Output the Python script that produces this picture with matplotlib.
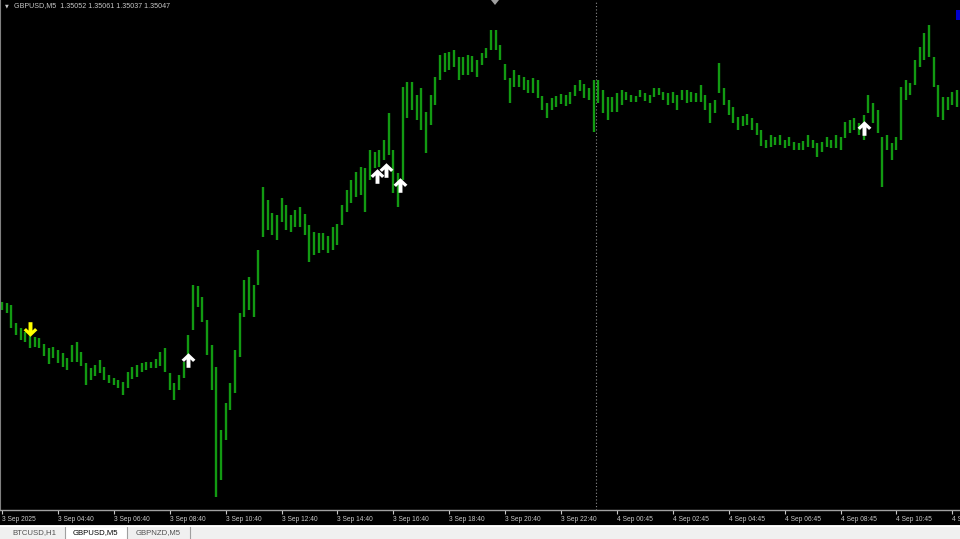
import numpy as np
import matplotlib
matplotlib.use('Agg')
import matplotlib.pyplot as plt
from matplotlib.path import Path
from matplotlib.patches import Rectangle, Polygon

# GBPUSD M5, high/low for every second bar (10 min steps)
high_prices = [
    1.34848, 1.34847, 1.34845, 1.34827, 1.34822, 1.34818, 1.34815, 1.34813, 1.34812, 1.34806,
    1.34802, 1.34803, 1.34800, 1.34797, 1.34792, 1.34805, 1.34808, 1.34798, 1.34787, 1.34782,
    1.34785, 1.34790, 1.34783, 1.34775, 1.34772, 1.34770, 1.34768, 1.34778, 1.34783, 1.34785,
    1.34787, 1.34788, 1.34788, 1.34791, 1.34798, 1.34802, 1.34777, 1.34767, 1.34775, 1.34788,
    1.34815, 1.34865, 1.34864, 1.34853, 1.34830, 1.34805, 1.34783, 1.34720, 1.34747, 1.34767,
    1.34800, 1.34837, 1.34870, 1.34873, 1.34865, 1.34900, 1.34963, 1.34950, 1.34937, 1.34935,
    1.34952, 1.34945, 1.34935, 1.34940, 1.34943, 1.34936, 1.34925, 1.34918, 1.34917, 1.34917,
    1.34914, 1.34923, 1.34926, 1.34945, 1.34960, 1.34970, 1.34978, 1.34983, 1.34982, 1.35000,
    1.34998, 1.35000, 1.35010, 1.35037, 1.35000, 1.34977, 1.35063, 1.35068, 1.35068, 1.35055,
    1.35062, 1.35038, 1.35055, 1.35073, 1.35095, 1.35097, 1.35098, 1.35100, 1.35093, 1.35093,
    1.35095, 1.35094, 1.35090, 1.35097, 1.35102, 1.35120, 1.35120, 1.35105, 1.35086, 1.35072,
    1.35080, 1.35075, 1.35073, 1.35070, 1.35072, 1.35070, 1.35054, 1.35047, 1.35052, 1.35054,
    1.35056, 1.35055, 1.35058, 1.35065, 1.35070, 1.35066, 1.35062, 1.35070, 1.35070, 1.35060,
    1.35053, 1.35053, 1.35057, 1.35060, 1.35058, 1.35055, 1.35054, 1.35060, 1.35057, 1.35055,
    1.35062, 1.35062, 1.35058, 1.35057, 1.35058, 1.35055, 1.35060, 1.35060, 1.35058, 1.35057,
    1.35065, 1.35055, 1.35047, 1.35050, 1.35087, 1.35062, 1.35050, 1.35043, 1.35033, 1.35034,
    1.35036, 1.35032, 1.35027, 1.35020, 1.35010, 1.35015, 1.35013, 1.35015, 1.35010, 1.35013,
    1.35008, 1.35007, 1.35009, 1.35015, 1.35010, 1.35007, 1.35008, 1.35013, 1.35010, 1.35015,
    1.35013, 1.35028, 1.35030, 1.35032, 1.35027, 1.35035, 1.35055, 1.35047, 1.35040, 1.35013,
    1.35015, 1.35007, 1.35013, 1.35063, 1.35070, 1.35067, 1.35090, 1.35103, 1.35117, 1.35125,
    1.35093, 1.35065, 1.35053, 1.35053, 1.35058, 1.35060,
]
low_prices = [
    1.34840, 1.34837, 1.34822, 1.34815, 1.34810, 1.34808, 1.34802, 1.34803, 1.34802, 1.34794,
    1.34786, 1.34792, 1.34787, 1.34783, 1.34780, 1.34788, 1.34788, 1.34784, 1.34765, 1.34770,
    1.34774, 1.34777, 1.34770, 1.34767, 1.34765, 1.34762, 1.34755, 1.34762, 1.34771, 1.34773,
    1.34778, 1.34780, 1.34782, 1.34782, 1.34784, 1.34778, 1.34760, 1.34750, 1.34760, 1.34772,
    1.34790, 1.34820, 1.34843, 1.34828, 1.34795, 1.34760, 1.34653, 1.34670, 1.34710, 1.34740,
    1.34757, 1.34793, 1.34833, 1.34840, 1.34833, 1.34865, 1.34913, 1.34920, 1.34915, 1.34910,
    1.34928, 1.34920, 1.34918, 1.34923, 1.34923, 1.34915, 1.34888, 1.34895, 1.34897, 1.34900,
    1.34897, 1.34900, 1.34905, 1.34925, 1.34938, 1.34947, 1.34953, 1.34955, 1.34938, 1.34970,
    1.34982, 1.34983, 1.34990, 1.34995, 1.34957, 1.34943, 1.34970, 1.35032, 1.35040, 1.35030,
    1.35020, 1.34997, 1.35025, 1.35045, 1.35070, 1.35078, 1.35080, 1.35083, 1.35070, 1.35075,
    1.35075, 1.35078, 1.35073, 1.35085, 1.35092, 1.35100, 1.35100, 1.35090, 1.35070, 1.35047,
    1.35063, 1.35063, 1.35060, 1.35057, 1.35057, 1.35052, 1.35040, 1.35032, 1.35040, 1.35043,
    1.35046, 1.35044, 1.35046, 1.35054, 1.35059, 1.35052, 1.35050, 1.35018, 1.35047, 1.35037,
    1.35030, 1.35038, 1.35038, 1.35045, 1.35050, 1.35048, 1.35048, 1.35053, 1.35049, 1.35047,
    1.35053, 1.35055, 1.35050, 1.35045, 1.35047, 1.35040, 1.35050, 1.35047, 1.35048, 1.35048,
    1.35048, 1.35040, 1.35027, 1.35037, 1.35057, 1.35045, 1.35035, 1.35027, 1.35020, 1.35024,
    1.35025, 1.35020, 1.35015, 1.35004, 1.35002, 1.35003, 1.35005, 1.35005, 1.35002, 1.35004,
    1.35000, 1.35000, 1.35000, 1.35003, 1.35002, 1.34993, 1.34998, 1.35003, 1.35002, 1.35002,
    1.35000, 1.35012, 1.35017, 1.35020, 1.35015, 1.35010, 1.35037, 1.35027, 1.35017, 1.34963,
    1.35000, 1.34990, 1.35000, 1.35010, 1.35050, 1.35055, 1.35065, 1.35083, 1.35090, 1.35093,
    1.35063, 1.35033, 1.35030, 1.35040, 1.35045, 1.35043,
]

# time axis labels, one every 24 M5 bars
time_labels = ['3 Sep 2025', '3 Sep 04:40', '3 Sep 06:40', '3 Sep 08:40', '3 Sep 10:40',
               '3 Sep 12:40', '3 Sep 14:40', '3 Sep 16:40', '3 Sep 18:40', '3 Sep 20:40',
               '3 Sep 22:40', '4 Sep 00:45', '4 Sep 02:45', '4 Sep 04:45', '4 Sep 06:45',
               '4 Sep 08:45', '4 Sep 10:45', '4 Sep 12:45']

# indicator arrows (bar index, price)
sell_bars = [12]
sell_prices = [1.34821]
buy_bars = [80, 161, 165, 171, 370]
buy_prices = [1.34790, 1.34974, 1.34980, 1.34965, 1.35022]

day_separator_bar = 255

fig = plt.figure(figsize=(9.6, 5.39), dpi=100, facecolor='black')
ax = fig.add_axes([0, 29 / 539, 1, 510 / 539], facecolor='black')

bar_index = np.arange(len(high_prices)) * 2
ax.vlines(bar_index, low_prices, high_prices, color='#129a12', linewidth=1.7)

# thick arrow markers like the MT4 wingdings arrows
up_verts = [(0, 1), (0.95, 0.1), (0.62, -0.2), (0.27, 0.15), (0.27, -1), (-0.27, -1),
            (-0.27, 0.15), (-0.62, -0.2), (-0.95, 0.1), (0, 1)]
up_arrow = Path(up_verts, closed=True)
down_arrow = Path([(x, -y) for x, y in up_verts], closed=True)

ax.plot(buy_bars, buy_prices, linestyle='none', marker=up_arrow, markersize=10.5,
        color='white', markeredgewidth=0)
ax.plot(sell_bars, sell_prices, linestyle='none', marker=down_arrow, markersize=10.5,
        color='#ffff00', markeredgewidth=0)

ax.axvline(day_separator_bar, color='#8c8c8c', linestyle=(0, (1, 2)), linewidth=0.8)

ax.set_xlim(-0.86, 411.3)
ax.set_ylim(1.34640, 1.35150)

ax.set_xticks(np.arange(len(time_labels)) * 24)
ax.set_xticklabels(time_labels, family='Liberation Sans')
for lbl in ax.get_xticklabels():
    lbl.set_ha('left')
ax.tick_params(axis='x', colors='#c8c8c8', length=3, width=0.8, pad=1.5, labelsize=4.8)
ax.set_yticks([])

for side in ['top', 'right']:
    ax.spines[side].set_visible(False)
ax.spines['bottom'].set_color('#a0a0a0')
ax.spines['left'].set_color('#808080')
ax.spines['bottom'].set_linewidth(1)

fig.text(6.5 / 960, 1 - 6 / 539, '\u25bc', ha='center', va='center', fontsize=3.5,
         color='#c8c8c8', family='DejaVu Sans')
fig.text(14 / 960, 1 - 6 / 539, 'GBPUSD,M5  1.35052 1.35061 1.35037 1.35047',
         ha='left', va='center', fontsize=5.1, color='#c8c8c8', family='Liberation Sans')

# overlay in pixel coords for the terminal decorations and tab bar
ov = fig.add_axes([0, 0, 1, 1])
ov.set_xlim(0, 960)
ov.set_ylim(539, 0)
ov.axis('off')
ov.patch.set_alpha(0)

ov.add_patch(Polygon([(491, 0), (499, 0), (495, 5)], closed=True, fc='#a0a0a0', ec='none'))
ov.add_patch(Rectangle((956, 10), 4, 10, fc='#0000cc', ec='none'))

ov.add_patch(Rectangle((0, 525), 960, 14, fc='#f0f0f0', ec='none'))
ov.plot([0, 960], [525.5, 525.5], color='white', linewidth=0.8)
ov.add_patch(Rectangle((64.5, 525.5), 62, 14, fc='white', ec='#a0a0a0', linewidth=0.8))
ov.plot([190, 190], [527, 539], color='#a0a0a0', linewidth=0.8)

tabs = ['BTCUSD,H1', 'GBPUSD,M5', 'GBPNZD,M5']
tab_centers = [34, 95, 158]
for name, cx in zip(tabs, tab_centers):
    ov.text(cx, 533, name, ha='center', va='center', fontsize=5.6,
            family='Liberation Sans', color='black' if name == 'GBPUSD,M5' else '#505050')

fig.savefig('out.png', dpi=100, facecolor='black')
